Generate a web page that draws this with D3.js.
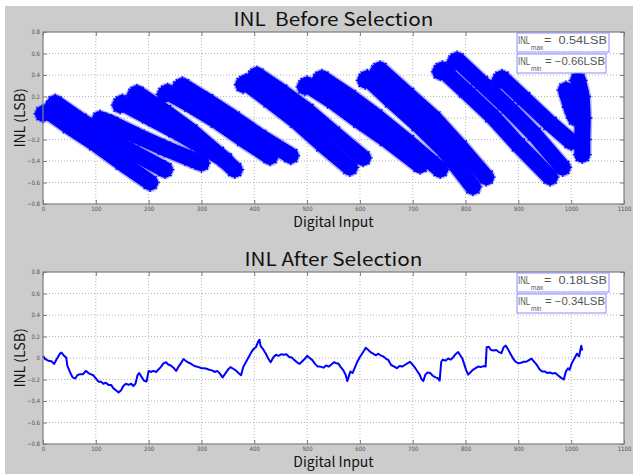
<!DOCTYPE html>
<html>
<head>
<meta charset="utf-8">
<script src="https://cdn.jsdelivr.net/npm/d3@7"></script>
<style>
body { margin: 0; background: #fff; }
svg { display: block; font-family: "Noto Sans CJK JP", "DejaVu Sans", sans-serif; }
</style>
</head>
<body>
<div id="chart"></div>
<script>
// tick values
const xTickValues = [0, 100, 200, 300, 400, 500, 600, 700, 800, 900, 1000, 1100];
const yTickValues = [-0.8, -0.6, -0.4, -0.2, 0, 0.2, 0.4, 0.6, 0.8];

// INL before selection: the asterisk cloud, read as diagonal strands [code, INL]
const beforeBands = [
    [[0, 0.04], [10, 0.06], [50, -0.08], [100, -0.24], [150, -0.42], [203, -0.6]],
    [[18, 0.1], [23, 0.14], [70, -0.02], [120, -0.17], [170, -0.32], [231, -0.48]],
    [[108, -0.01], [130, -0.05], [180, -0.17], [230, -0.28], [280, -0.38], [300, -0.42]],
    [[146, 0.12], [150, 0.14], [200, 0.01], [250, -0.12], [300, -0.26], [345, -0.39]],
    [[174, 0.21], [178, 0.23], [230, 0.06], [280, -0.12], [330, -0.33], [363, -0.48]],
    [[231, 0.22], [236, 0.24], [280, 0.12], [330, -0.03], [380, -0.2], [430, -0.36]],
    [[259, 0.28], [264, 0.3], [310, 0.16], [360, 0.0], [410, -0.17], [469, -0.35]],
    [[379, 0.31], [384, 0.33], [430, 0.16], [480, -0.03], [530, -0.25], [581, -0.46]],
    [[401, 0.38], [405, 0.4], [450, 0.25], [500, 0.07], [550, -0.14], [606, -0.37]],
    [[496, 0.29], [500, 0.31], [550, 0.15], [600, -0.03], [650, -0.2], [714, -0.44]],
    [[524, 0.35], [528, 0.37], [580, 0.2], [630, 0.02], [690, -0.22], [752, -0.48]],
    [[610, 0.35], [614, 0.37], [660, 0.16], [710, -0.06], [760, -0.3], [814, -0.64]],
    [[634, 0.43], [638, 0.45], [690, 0.22], [740, 0.0], [790, -0.27], [839, -0.55]],
    [[752, 0.43], [756, 0.45], [800, 0.25], [850, 0.02], [900, -0.25], [960, -0.55]],
    [[780, 0.52], [784, 0.54], [830, 0.33], [880, 0.1], [930, -0.15], [984, -0.46]],
    [[865, 0.35], [869, 0.37], [910, 0.18], [960, -0.05], [1000, -0.22]],
    [[990, 0.26], [1000, 0.1], [1008, 0.0]],
    [[1013, 0.35], [1020, 0.2], [1022, 0.0], [1021, -0.2], [1021, -0.34]]
];

// INL after selection [code, INL]
const afterInl = [
    [0, 0.02], [4, -0.01], [10, -0.025], [16, -0.03], [21, -0.055], [26, -0.01], [32, 0.04], [35, 0.05],
    [40, 0.02], [44, 0.005], [46, -0.07], [51, -0.13], [56, -0.18], [61, -0.19], [65, -0.16], [70, -0.15],
    [76, -0.15], [81, -0.12], [86, -0.14], [90, -0.15], [95, -0.16], [100, -0.19], [105, -0.22], [110, -0.22],
    [114, -0.24], [119, -0.23], [124, -0.25], [129, -0.25], [133, -0.28], [138, -0.3], [143, -0.32], [148, -0.3],
    [152, -0.26], [157, -0.24], [162, -0.25], [167, -0.24], [171, -0.26], [175, -0.24], [179, -0.16], [182, -0.14],
    [187, -0.18], [191, -0.21], [196, -0.22], [200, -0.12], [204, -0.13], [209, -0.12], [214, -0.13], [218, -0.11],
    [223, -0.085], [228, -0.05], [233, -0.04], [237, -0.06], [242, -0.07], [247, -0.09], [252, -0.12], [256, -0.085],
    [261, -0.05], [266, -0.01], [270, -0.025], [274, -0.04], [279, -0.05], [285, -0.07], [290, -0.08], [295, -0.085],
    [300, -0.095], [305, -0.095], [310, -0.1], [315, -0.11], [320, -0.115], [325, -0.13], [330, -0.12], [335, -0.145],
    [340, -0.18], [345, -0.145], [350, -0.11], [355, -0.085], [360, -0.1], [365, -0.115], [370, -0.14], [375, -0.16],
    [379, -0.085], [384, -0.04], [389, 0.005], [394, 0.05], [398, 0.08], [403, 0.1], [408, 0.16], [410, 0.17],
    [412, 0.11], [417, 0.08], [422, 0.04], [427, -0.01], [431, -0.04], [436, 0.005], [441, 0.03], [446, 0.02],
    [451, 0.035], [456, 0.03], [461, 0.035], [466, 0.01], [471, 0.005], [476, -0.02], [481, -0.04], [486, -0.055],
    [491, -0.03], [497, 0.0], [500, 0.02], [505, 0.0], [510, -0.02], [515, -0.055], [520, -0.08], [525, -0.08],
    [531, -0.09], [536, -0.07], [541, -0.08], [546, -0.06], [551, -0.04], [556, -0.05], [559, -0.05], [563, -0.08],
    [568, -0.11], [573, -0.155], [576, -0.215], [580, -0.155], [582, -0.125], [586, -0.14], [590, -0.095], [595, -0.035],
    [600, 0.01], [604, 0.04], [608, 0.07], [611, 0.095], [616, 0.075], [620, 0.055], [625, 0.04], [630, 0.025],
    [635, 0.04], [639, 0.025], [644, 0.015], [649, -0.005], [654, -0.02], [659, -0.065], [665, -0.08], [670, -0.095],
    [675, -0.075], [680, -0.08], [685, -0.065], [690, -0.05], [695, -0.035], [700, -0.065], [705, -0.095], [709, -0.125],
    [713, -0.155], [717, -0.2], [720, -0.215], [724, -0.155], [728, -0.135], [733, -0.14], [738, -0.165], [743, -0.18],
    [747, -0.185], [751, -0.21], [754, -0.035], [757, -0.015], [762, -0.025], [767, -0.005], [772, -0.015], [777, 0.01],
    [782, 0.04], [786, 0.055], [790, 0.025], [794, -0.005], [797, -0.05], [801, -0.11], [805, -0.155], [809, -0.135],
    [814, -0.11], [819, -0.095], [824, -0.08], [829, -0.085], [834, -0.075], [838, -0.08], [840, 0.1], [844, 0.105],
    [848, 0.075], [853, 0.07], [858, 0.075], [863, 0.055], [868, 0.045], [872, 0.1], [876, 0.115], [880, 0.085],
    [885, 0.04], [890, -0.005], [895, -0.035], [900, -0.05], [905, -0.045], [910, -0.035], [915, -0.035], [920, -0.02],
    [925, -0.005], [930, -0.035], [935, -0.065], [940, -0.105], [945, -0.125], [950, -0.125], [955, -0.14], [960, -0.135],
    [965, -0.145], [970, -0.14], [976, -0.165], [981, -0.185], [986, -0.2], [990, -0.125], [994, -0.095], [997, -0.11],
    [1001, -0.05], [1006, -0.005], [1011, 0.04], [1015, 0.015], [1019, 0.115], [1021, 0.07]
];

// legend boxes
const beforeStats = [["max", "=  0.54LSB"], ["min", "= \u22120.66LSB"]];
const afterStats = [["max", "=  0.18LSB"], ["min", "= \u22120.34LSB"]];

const width = 633, height = 474;
const plotLeft = 43, plotRight = 624;
const blue = "#0000ff";

const svg = d3.select("#chart").append("svg")
    .attr("width", width)
    .attr("height", height);

// grey figure background
svg.append("rect")
    .attr("x", 5).attr("y", 6)
    .attr("width", width - 5).attr("height", height - 6)
    .attr("fill", "#cccccc");

const x = d3.scaleLinear().domain([0, 1100]).range([plotLeft, plotRight]);

function drawPanel(top, bottom, title, titleWidth) {
    const y = d3.scaleLinear().domain([-0.8, 0.8]).range([bottom, top]);
    const g = svg.append("g");

    g.append("rect")
        .attr("x", plotLeft).attr("y", top)
        .attr("width", plotRight - plotLeft).attr("height", bottom - top)
        .attr("fill", "#fff");

    // dotted grid
    g.append("g").selectAll("line")
        .data(xTickValues.slice(1, -1))
        .join("line")
        .attr("x1", d => x(d)).attr("x2", d => x(d))
        .attr("y1", top).attr("y2", bottom)
        .attr("stroke", "#b4b4b4").attr("stroke-dasharray", "1,2");
    g.append("g").selectAll("line")
        .data(yTickValues.slice(1, -1))
        .join("line")
        .attr("x1", plotLeft).attr("x2", plotRight)
        .attr("y1", d => y(d)).attr("y2", d => y(d))
        .attr("stroke", "#b4b4b4").attr("stroke-dasharray", "1,2");

    // axes: ticks inside, tiny labels
    const xAxis = g.append("g")
        .attr("transform", `translate(0,${bottom})`)
        .call(d3.axisBottom(x).tickValues(xTickValues).tickSizeInner(-4).tickSizeOuter(0).tickPadding(3)
            .tickFormat(d3.format("d")));
    const yAxis = g.append("g")
        .attr("transform", `translate(${plotLeft},0)`)
        .call(d3.axisLeft(y).tickValues(yTickValues).tickSizeInner(-4).tickSizeOuter(0).tickPadding(3)
            .tickFormat(d => d === 0 ? "0" : d3.format(".1f")(d)));
    g.append("g")
        .attr("transform", `translate(0,${top})`)
        .call(d3.axisTop(x).tickValues(xTickValues).tickSizeInner(-4).tickSizeOuter(0).tickFormat(""));
    g.append("g")
        .attr("transform", `translate(${plotRight},0)`)
        .call(d3.axisRight(y).tickValues(yTickValues).tickSizeInner(-4).tickSizeOuter(0).tickFormat(""));

    g.selectAll(".domain").remove();
    g.selectAll(".tick line").attr("stroke", "#7a7a7a");
    [xAxis, yAxis].forEach(a => a.selectAll("text")
        .attr("fill", "#555")
        .style("font-size", "6px")
        .style("font-family", "'Liberation Sans Narrow', 'DejaVu Sans Condensed', sans-serif"));

    // title and labels
    g.append("text")
        .attr("x", (plotLeft + plotRight) / 2).attr("y", top - 6)
        .attr("text-anchor", "middle")
        .attr("textLength", titleWidth).attr("lengthAdjust", "spacingAndGlyphs")
        .style("font-size", "18.5px")
        .attr("fill", "#111")
        .attr("xml:space", "preserve")
        .text(title);
    g.append("text")
        .attr("x", (plotLeft + plotRight) / 2).attr("y", bottom + 23)
        .attr("text-anchor", "middle")
        .style("font-size", "14px")
        .attr("fill", "#111")
        .text("Digital Input");
    g.append("text")
        .attr("transform", "rotate(-90)")
        .attr("x", -(top + bottom) / 2).attr("y", 25)
        .attr("text-anchor", "middle")
        .style("font-size", "14px")
        .attr("fill", "#111")
        .text("INL (LSB)");

    return {g, y, top, bottom};
}

function drawFrame(p) {
    p.g.append("rect")
        .attr("x", plotLeft).attr("y", p.top)
        .attr("width", plotRight - plotLeft).attr("height", p.bottom - p.top)
        .attr("fill", "none").attr("stroke", "#7f7f7f").attr("stroke-width", 1.2);
}

function drawStats(g, top, stats) {
    const boxW = [92, 89];
    stats.forEach((s, i) => {
        const by = top + 1 + i * 21;
        const box = g.append("g").attr("transform", `translate(517,${by})`);
        box.append("rect")
            .attr("width", boxW[i]).attr("height", 19)
            .attr("fill", "#fff")
            .attr("stroke", "#8c8cff").attr("stroke-width", 1);
        const font = "'Liberation Sans', Arial, sans-serif";
        box.append("text")
            .attr("x", 1).attr("y", 11)
            .attr("textLength", 12).attr("lengthAdjust", "spacingAndGlyphs")
            .attr("fill", "#555").style("font-family", font).style("font-size", "10px")
            .text("INL");
        box.append("text")
            .attr("x", 14).attr("y", 17)
            .attr("fill", "#555").style("font-family", font).style("font-size", "6.5px")
            .text(s[0]);
        box.append("text")
            .attr("x", i === 0 ? 27 : 28).attr("y", 11)
            .attr("textLength", i === 0 ? 63 : 60).attr("lengthAdjust", "spacingAndGlyphs")
            .attr("xml:space", "preserve")
            .attr("fill", "#555").style("font-family", font).style("font-size", "10px")
            .text(s[1]);
    });
}

// asterisk marker path
function asterisk(r) {
    const a = r * 0.7;
    return `M${-r},0L${r},0M0,${-r}L0,${r}M${-a},${-a}L${a},${a}M${-a},${a}L${a},${-a}`;
}

// top panel
const p1 = drawPanel(32, 204, "INL  Before Selection", 200);
const line1 = d3.line().x(d => x(d[0])).y(d => p1.y(d[1]));
const bandG = p1.g.append("g");
bandG.selectAll(".halo")
    .data(beforeBands)
    .join("path")
    .attr("class", "halo")
    .attr("d", line1)
    .attr("fill", "none")
    .attr("stroke", "#5a5aff")
    .attr("stroke-width", 19)
    .attr("stroke-linecap", "round")
    .attr("stroke-linejoin", "round")
    .attr("opacity", 0.45);
bandG.selectAll(".band")
    .data(beforeBands)
    .join("path")
    .attr("class", "band")
    .attr("d", line1)
    .attr("fill", "none")
    .attr("stroke", blue)
    .attr("stroke-width", 16)
    .attr("stroke-linecap", "round")
    .attr("stroke-linejoin", "round");
bandG.selectAll(".star")
    .data(beforeBands.flat())
    .join("path")
    .attr("class", "star")
    .attr("transform", d => `translate(${x(d[0])},${p1.y(d[1])})`)
    .attr("d", asterisk(9.5))
    .attr("stroke", blue)
    .attr("stroke-width", 1.3);
drawFrame(p1);
drawStats(p1.g, 32, beforeStats);

// bottom panel
const p2 = drawPanel(272, 444, "INL After Selection", 178);
const line2 = d3.line().x(d => x(d[0])).y(d => p2.y(d[1]));
p2.g.append("path")
    .datum(afterInl)
    .attr("d", line2)
    .attr("fill", "none")
    .attr("stroke", blue)
    .attr("stroke-width", 2)
    .attr("stroke-linejoin", "round");
drawFrame(p2);
drawStats(p2.g, 272, afterStats);
</script>
</body>
</html>
